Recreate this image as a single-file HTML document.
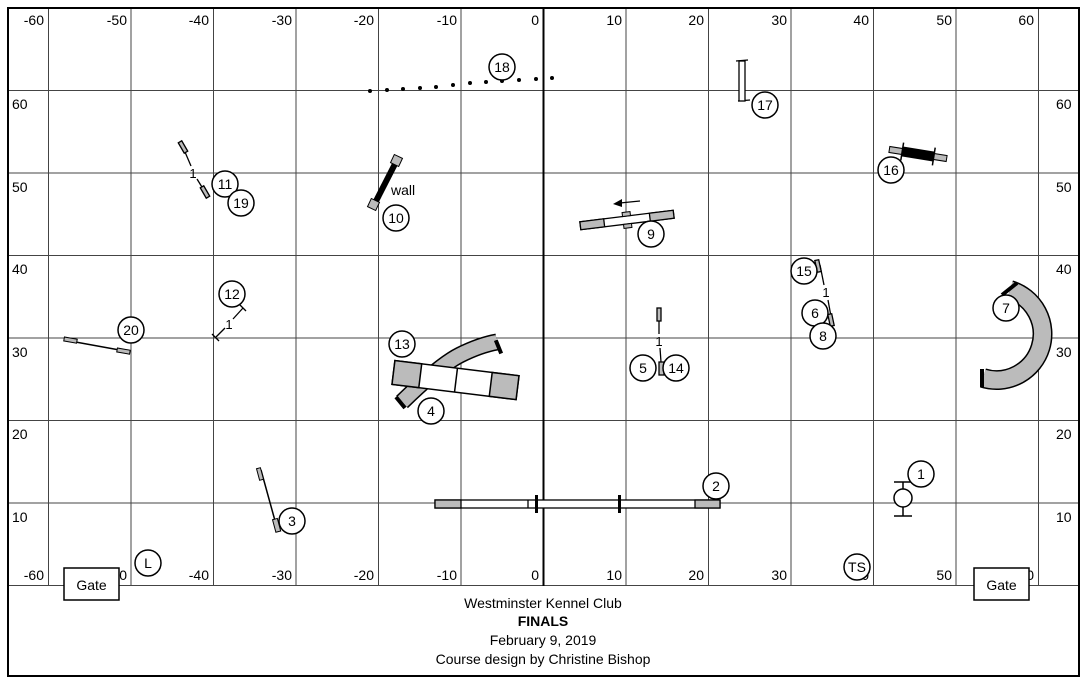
<!DOCTYPE html>
<html><head><meta charset="utf-8"><style>
html,body{margin:0;padding:0;background:#fff;}
svg{display:block;font-family:"Liberation Sans",sans-serif;}
</style></head><body>
<svg width="1087" height="682" viewBox="0 0 1087 682" xmlns="http://www.w3.org/2000/svg">
<rect x="0" y="0" width="1087" height="682" fill="#fff"/>
<g stroke="#444" stroke-width="1">
<line x1="48.5" y1="9" x2="48.5" y2="586"/>
<line x1="131" y1="9" x2="131" y2="586"/>
<line x1="213.5" y1="9" x2="213.5" y2="586"/>
<line x1="296" y1="9" x2="296" y2="586"/>
<line x1="378.5" y1="9" x2="378.5" y2="586"/>
<line x1="461" y1="9" x2="461" y2="586"/>
<line x1="626" y1="9" x2="626" y2="586"/>
<line x1="708.5" y1="9" x2="708.5" y2="586"/>
<line x1="791" y1="9" x2="791" y2="586"/>
<line x1="873.5" y1="9" x2="873.5" y2="586"/>
<line x1="956" y1="9" x2="956" y2="586"/>
<line x1="1038.5" y1="9" x2="1038.5" y2="586"/>
<line x1="8" y1="90.5" x2="1079" y2="90.5"/>
<line x1="8" y1="173" x2="1079" y2="173"/>
<line x1="8" y1="255.5" x2="1079" y2="255.5"/>
<line x1="8" y1="338" x2="1079" y2="338"/>
<line x1="8" y1="420.5" x2="1079" y2="420.5"/>
<line x1="8" y1="503" x2="1079" y2="503"/>
<line x1="8" y1="585.5" x2="1079" y2="585.5"/>
</g>
<line x1="543.5" y1="9" x2="543.5" y2="586" stroke="#000" stroke-width="2"/>
<rect x="8" y="8" width="1071" height="668" fill="none" stroke="#000" stroke-width="2"/>
<g font-size="14" fill="#000" text-anchor="end">
<text x="44" y="25">-60</text><text x="127" y="25">-50</text><text x="209" y="25">-40</text><text x="292" y="25">-30</text><text x="374" y="25">-20</text><text x="457" y="25">-10</text><text x="539" y="25">0</text><text x="622" y="25">10</text><text x="704" y="25">20</text><text x="787" y="25">30</text><text x="869" y="25">40</text><text x="952" y="25">50</text><text x="1034" y="25">60</text>
<text x="44" y="580">-60</text><text x="127" y="580">-50</text><text x="209" y="580">-40</text><text x="292" y="580">-30</text><text x="374" y="580">-20</text><text x="457" y="580">-10</text><text x="539" y="580">0</text><text x="622" y="580">10</text><text x="704" y="580">20</text><text x="787" y="580">30</text><text x="869" y="580">40</text><text x="952" y="580">50</text><text x="1034" y="580">60</text>
</g>
<g font-size="14" fill="#000">
<text x="12" y="109">60</text><text x="12" y="192">50</text><text x="12" y="274">40</text><text x="12" y="357">30</text><text x="12" y="439">20</text><text x="12" y="522">10</text>
<text x="1056" y="109">60</text><text x="1056" y="192">50</text><text x="1056" y="274">40</text><text x="1056" y="357">30</text><text x="1056" y="439">20</text><text x="1056" y="522">10</text>
</g>
<rect x="64" y="568" width="55" height="32" fill="#fff" stroke="#000" stroke-width="1.5"/>
<text x="91.5" y="590" font-size="14" text-anchor="middle">Gate</text>
<rect x="974" y="568" width="55" height="32" fill="#fff" stroke="#000" stroke-width="1.5"/>
<text x="1001.5" y="590" font-size="14" text-anchor="middle">Gate</text>
<g font-size="14" text-anchor="middle">
<text x="543" y="608">Westminster Kennel Club</text>
<text x="543" y="626" font-weight="bold">FINALS</text>
<text x="543" y="645">February 9, 2019</text>
<text x="543" y="664">Course design by Christine Bishop</text>
</g>
<g fill="#000">
<circle cx="370" cy="91" r="2"/><circle cx="387" cy="90" r="2"/><circle cx="403" cy="89" r="2"/><circle cx="420" cy="88" r="2"/><circle cx="436" cy="87" r="2"/><circle cx="453" cy="85" r="2"/><circle cx="470" cy="83" r="2"/><circle cx="486" cy="82" r="2"/><circle cx="502" cy="81" r="2"/><circle cx="519" cy="80" r="2"/><circle cx="536" cy="79" r="2"/><circle cx="552" cy="78" r="2"/>
</g>
<g stroke="#000" stroke-width="1.3" fill="none">
<line x1="736" y1="61" x2="748" y2="60"/><line x1="738" y1="101" x2="750" y2="100"/>
<rect x="739" y="61" width="6" height="40" fill="#fff"/>
</g>
<g transform="rotate(9 918 154)">
<rect x="889" y="151" width="58" height="6" fill="#bbb" stroke="#000"/>
<rect x="902" y="149" width="32" height="10" fill="#000"/>
<line x1="902" y1="145" x2="902" y2="163" stroke="#000" stroke-width="1.5"/>
<line x1="934" y1="145" x2="934" y2="163" stroke="#000" stroke-width="1.5"/>
</g>
<g stroke="#000" stroke-width="1.3">
<line x1="185" y1="152" x2="191" y2="166"/><line x1="197" y1="179" x2="205" y2="192"/>
<rect x="181" y="141" width="4" height="12" fill="#bbb" transform="rotate(-30 183 147)"/>
<rect x="203" y="186" width="4" height="12" fill="#bbb" transform="rotate(-30 205 192)"/>
</g>
<text x="193" y="178" font-size="13" text-anchor="middle">1</text>
<line x1="374" y1="205" x2="397" y2="160" stroke="#000" stroke-width="6"/>
<rect x="369" y="200" width="9" height="9" fill="#bbb" stroke="#000" transform="rotate(25 373.5 204.5)"/>
<rect x="392" y="156" width="9" height="9" fill="#bbb" stroke="#000" transform="rotate(25 396.5 160.5)"/>
<text x="391" y="195" font-size="14">wall</text>
<g transform="rotate(-7 627 220)">
<rect x="580" y="216" width="94" height="8" fill="#fff" stroke="#000" stroke-width="1.3"/>
<rect x="580" y="216" width="24" height="8" fill="#bbb" stroke="#000" stroke-width="1.3"/>
<rect x="650" y="216" width="24" height="8" fill="#bbb" stroke="#000" stroke-width="1.3"/>
<rect x="623" y="212" width="8" height="4" fill="#bbb" stroke="#000"/>
<rect x="623" y="224" width="8" height="4" fill="#bbb" stroke="#000"/>
</g>
<line x1="620" y1="203" x2="640" y2="201" stroke="#000" stroke-width="1.3"/>
<polygon points="613,204 622,199 622,207" fill="#000"/>
<g stroke="#000" stroke-width="1.3">
<line x1="820" y1="265" x2="824" y2="285"/><line x1="828" y1="300" x2="832" y2="322"/>
<rect x="816" y="260" width="4" height="12" fill="#bbb" transform="rotate(-12 818 266)"/>
<rect x="829" y="314" width="4" height="12" fill="#bbb" transform="rotate(-12 831 320)"/>
</g>
<text x="826" y="297" font-size="13" text-anchor="middle">1</text>
<!-- 7 curved tunnel -->
<path d="M1010,290 A46,46 0 0 1 983,378" fill="none" stroke="#000" stroke-width="20"/>
<path d="M1010,290 A46,46 0 0 1 983,378" fill="none" stroke="#bbb" stroke-width="17"/>
<line x1="1002" y1="295" x2="1017" y2="283" stroke="#000" stroke-width="4"/>
<line x1="982" y1="369" x2="982" y2="387" stroke="#000" stroke-width="4"/>
<g stroke="#000" stroke-width="1.3">
<line x1="216" y1="337" x2="225" y2="328"/><line x1="233" y1="319" x2="243" y2="308"/>
<line x1="212" y1="334" x2="219" y2="341"/><line x1="240" y1="305" x2="246" y2="311"/>
</g>
<text x="229" y="329" font-size="13" text-anchor="middle">1</text>
<line x1="70" y1="341" x2="125" y2="351" stroke="#000" stroke-width="1.5"/>
<rect x="64" y="338" width="13" height="4" fill="#bbb" stroke="#000" transform="rotate(10 70 340)"/>
<rect x="117" y="349" width="13" height="4" fill="#bbb" stroke="#000" transform="rotate(10 123 351)"/>
<line x1="261" y1="470" x2="277" y2="528" stroke="#000" stroke-width="1.5"/>
<rect x="258" y="468" width="4" height="12" fill="#bbb" stroke="#000" transform="rotate(-15 260 474)"/>
<rect x="274" y="519" width="5" height="13" fill="#bbb" stroke="#000" transform="rotate(-15 276 525)"/>
<path d="M402,402 Q440,365 460,355 Q480,345 497,342" fill="none" stroke="#000" stroke-width="17"/>
<path d="M402,402 Q440,365 460,355 Q480,345 497,342" fill="none" stroke="#bbb" stroke-width="14"/>
<line x1="396" y1="397" x2="405" y2="408" stroke="#000" stroke-width="4"/>
<line x1="497" y1="340" x2="500" y2="354" stroke="#000" stroke-width="4" transform="rotate(-10 498 347)"/>
<g transform="rotate(7 455 380)">
<rect x="393" y="368" width="125" height="24" fill="#fff" stroke="#000" stroke-width="1.5"/>
<rect x="393" y="368" width="27" height="24" fill="#bbb" stroke="#000" stroke-width="1.5"/>
<rect x="491" y="368" width="27" height="24" fill="#bbb" stroke="#000" stroke-width="1.5"/>
<line x1="456" y1="368" x2="456" y2="392" stroke="#000" stroke-width="1.5"/>
</g>
<rect x="435" y="500" width="285" height="8" fill="#fff" stroke="#000" stroke-width="1.3"/>
<rect x="435" y="500" width="26" height="8" fill="#bbb" stroke="#000" stroke-width="1.3"/>
<rect x="695" y="500" width="25" height="8" fill="#bbb" stroke="#000" stroke-width="1.3"/>
<line x1="528" y1="500" x2="528" y2="508" stroke="#000" stroke-width="1.3"/>
<rect x="535" y="495" width="3" height="18" fill="#000"/>
<rect x="618" y="495" width="3" height="18" fill="#000"/>
<g stroke="#000" stroke-width="1.5" fill="#fff">
<line x1="894" y1="482" x2="912" y2="482"/><line x1="894" y1="516" x2="912" y2="516"/>
<line x1="903" y1="482" x2="903" y2="516"/>
<circle cx="903" cy="498" r="9"/>
</g>
<g stroke="#000" stroke-width="1.3">
<line x1="659" y1="320" x2="659" y2="334"/><line x1="660" y1="348" x2="661" y2="362"/>
<rect x="657" y="308" width="4" height="13" fill="#bbb"/>
<rect x="659" y="362" width="5" height="13" fill="#bbb"/>
</g>
<text x="659" y="346" font-size="13" text-anchor="middle">1</text>
<g fill="#fff" stroke="#000" stroke-width="1.5">
<circle cx="502" cy="67" r="13"/><circle cx="765" cy="105" r="13"/><circle cx="891" cy="170" r="13"/>
<circle cx="225" cy="184" r="13"/><circle cx="241" cy="203" r="13"/><circle cx="396" cy="218" r="13"/>
<circle cx="651" cy="234" r="13"/><circle cx="804" cy="271" r="13"/><circle cx="815" cy="313" r="13"/>
<circle cx="823" cy="336" r="13"/><circle cx="1006" cy="308" r="13"/><circle cx="232" cy="294" r="13"/>
<circle cx="131" cy="330" r="13"/><circle cx="402" cy="344" r="13"/><circle cx="643" cy="368" r="13"/>
<circle cx="676" cy="368" r="13"/><circle cx="431" cy="411" r="13"/><circle cx="716" cy="486" r="13"/>
<circle cx="921" cy="474" r="13"/><circle cx="292" cy="521" r="13"/><circle cx="148" cy="563" r="13"/>
<circle cx="857" cy="567" r="13"/>
</g>
<g font-size="14" text-anchor="middle" fill="#000">
<text x="502" y="72">18</text><text x="765" y="110">17</text><text x="891" y="175">16</text>
<text x="225" y="189">11</text><text x="241" y="208">19</text><text x="396" y="223">10</text>
<text x="651" y="239">9</text><text x="804" y="276">15</text><text x="815" y="318">6</text>
<text x="823" y="341">8</text><text x="1006" y="313">7</text><text x="232" y="299">12</text>
<text x="131" y="335">20</text><text x="402" y="349">13</text><text x="643" y="373">5</text>
<text x="676" y="373">14</text><text x="431" y="416">4</text><text x="716" y="491">2</text>
<text x="921" y="479">1</text><text x="292" y="526">3</text><text x="148" y="568">L</text>
<text x="857" y="572">TS</text>
</g>
</svg>
</body></html>
